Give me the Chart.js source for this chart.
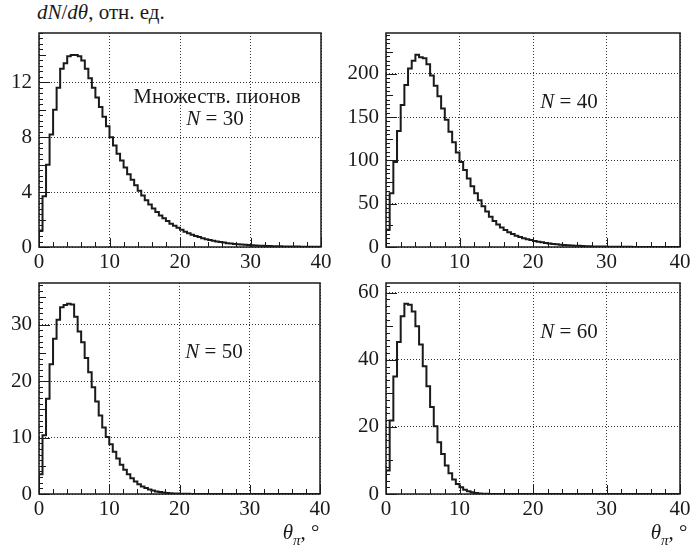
<!DOCTYPE html>
<html>
<head>
<meta charset="utf-8">
<script src="https://cdn.jsdelivr.net/npm/chart.js@4.4.1/dist/chart.umd.min.js"></script>
<style>
  body { margin: 0; background: #fff; }
  #wrap { position: relative; width: 693px; height: 553px; overflow: hidden;
          font-family: "Liberation Serif", Tinos, "DejaVu Serif", "Times New Roman", Times, serif; color: #1a1a1a; }
  canvas { position: absolute; }
  .txt { position: absolute; white-space: nowrap; font-size: 21px; line-height: 24px; transform: translate(-50%, -50%); }
</style>
</head>
<body>
<div id="wrap">
  <canvas id="c30" width="345" height="250" style="left:0;top:25px"></canvas>
  <canvas id="c40" width="348" height="250" style="left:345px;top:25px"></canvas>
  <canvas id="c50" width="345" height="278" style="left:0;top:275px"></canvas>
  <canvas id="c60" width="348" height="278" style="left:345px;top:275px"></canvas>

  <div class="txt" style="left:37px;top:0;transform:none"><i>dN</i>/<i>dθ</i>, отн. ед.</div>
  <div class="txt" style="left:217px;top:96px">Множеств. пионов</div>
  <div class="txt" style="left:215px;top:118px"><i>N</i> = 30</div>
  <div class="txt" style="left:569px;top:101px"><i>N</i> = 40</div>
  <div class="txt" style="left:214px;top:351px"><i>N</i> = 50</div>
  <div class="txt" style="left:569px;top:331px"><i>N</i> = 60</div>
  <div class="txt" style="left:301px;top:536px"><i>θ<sub style="font-size:15px">π</sub></i>, °</div>
  <div class="txt" style="left:669px;top:536px"><i>θ<sub style="font-size:15px">π</sub></i>, °</div>
</div>

<script>
// Угол пиона, градусы: границы бинов (шаг 0.5)
const thetaEdges = Array.from({ length: 81 }, (_, i) => i * 0.5);
const xTicks = [0, 10, 20, 30, 40];

// dN/dθ по бинам, N = 30
const dndTheta30 = [
  1.2, 3.7, 6.0, 8.2, 10.0, 11.6, 13.0, 13.4, 13.9, 14.0,
  14.0, 13.9, 13.6, 13.0, 12.3, 11.6, 10.9, 10.2, 9.5, 8.8,
  8.0, 7.4, 6.8, 6.3, 5.8, 5.3, 4.9, 4.5, 4.1, 3.75,
  3.4, 3.1, 2.8, 2.55, 2.3, 2.1, 1.9, 1.7, 1.55, 1.4,
  1.25, 1.12, 1.0, 0.9, 0.8, 0.72, 0.64, 0.57, 0.51, 0.45,
  0.40, 0.36, 0.32, 0.28, 0.25, 0.22, 0.2, 0.18, 0.16, 0.14,
  0.12, 0.11, 0.1, 0.09, 0.08, 0.07, 0.06, 0.055, 0.05, 0.045,
  0.04, 0.035, 0.03, 0.03, 0.025, 0.02, 0.02, 0.02, 0.015, 0.015
];
// N = 40
const dndTheta40 = [
  20, 62, 98, 134, 164, 187, 206, 215, 222, 219,
  218, 211, 198, 186, 174, 160, 147, 133, 121, 109,
  98, 89, 79, 70, 62, 54, 47, 41, 35, 30,
  26, 22.5, 19.5, 17, 15, 13, 11.5, 10, 9, 8,
  7, 6.2, 5.4, 4.7, 4.1, 3.6, 3.1, 2.7, 2.3, 2.0,
  1.7, 1.5, 1.3, 1.1, 0.95, 0.8, 0.7, 0.6, 0.5, 0.45,
  0.4, 0.35, 0.3, 0.26, 0.22, 0.19, 0.16, 0.14, 0.12, 0.1,
  0.09, 0.08, 0.07, 0.06, 0.05, 0.04, 0.035, 0.03, 0.025, 0.02
];
// N = 50
const dndTheta50 = [
  3.5, 10.4, 16.9, 23.0, 27.5, 30.9, 33.1, 33.5, 33.7, 33.6,
  31.4, 28.8, 26.9, 24.1, 21.6, 18.9, 16.4, 13.9, 11.8, 10.1,
  8.8, 7.5, 6.3, 5.2, 4.3, 3.5, 2.8, 2.2, 1.75, 1.35,
  1.05, 0.8, 0.6, 0.46, 0.35, 0.26, 0.19, 0.14, 0.1, 0.075,
  0.055, 0.04, 0.03, 0.02, 0.015, 0.01, 0.008, 0.006, 0.004, 0.003,
  0.002, 0.002, 0.001, 0.001, 0.001, 0, 0, 0, 0, 0,
  0, 0, 0, 0, 0, 0, 0, 0, 0, 0,
  0, 0, 0, 0, 0, 0, 0, 0, 0, 0
];
// N = 60
const dndTheta60 = [
  7, 21.9, 35, 45.3, 53, 56.7, 56.4, 54.4, 50, 44.6,
  38.1, 32.1, 25.9, 20.2, 15.4, 11.9, 8.5, 6.2, 4.3, 3.0,
  2.0, 1.3, 0.8, 0.5, 0.3, 0.18, 0.1, 0.06, 0.035, 0.02,
  0.01, 0.006, 0.003, 0.002, 0.001, 0, 0, 0, 0, 0,
  0, 0, 0, 0, 0, 0, 0, 0, 0, 0,
  0, 0, 0, 0, 0, 0, 0, 0, 0, 0,
  0, 0, 0, 0, 0, 0, 0, 0, 0, 0,
  0, 0, 0, 0, 0, 0, 0, 0, 0, 0
];

const yTicks30 = [0, 4, 8, 12];
const yTicks40 = [0, 50, 100, 150, 200];
const yTicks50 = [0, 10, 20, 30];
const yTicks60 = [0, 20, 40, 60];

const FONT = { family: '"Liberation Serif", Tinos, "DejaVu Serif", "Times New Roman", Times, serif', size: 21 };
const INK = '#1a1a1a';

// гистограмма -> ломаная (каждый бин = две точки)
const histPoints = (vals) => {
  const pts = [{ x: thetaEdges[0], y: 0 }];
  vals.forEach((v, i) => {
    pts.push({ x: thetaEdges[i], y: v });
    pts.push({ x: thetaEdges[i + 1], y: v });
  });
  return pts;
};

// рамка и внутренние засечки в стиле ROOT
const frameTicks = {
  id: 'frameTicks',
  afterDraw(chart, args, o) {
    const { ctx, chartArea: a, scales: { x, y } } = chart;
    ctx.save();
    ctx.strokeStyle = INK;
    ctx.lineWidth = 1;
    ctx.beginPath();
    const nx = Math.round(x.max / o.xMinor);
    for (let i = 0; i <= nx; i++) {
      const px = Math.round(x.getPixelForValue(i * o.xMinor)) + 0.5;
      const len = i % o.xPer === 0 ? 9 : 5;
      ctx.moveTo(px, a.bottom);
      ctx.lineTo(px, a.bottom - len);
    }
    const ny = Math.floor(y.max / o.yMinor + 1e-6);
    for (let i = 0; i <= ny; i++) {
      const py = Math.round(y.getPixelForValue(i * o.yMinor)) + 0.5;
      let len = 4;
      if (i % o.yPer === 0) len = 11;
      else if (i % (o.yPer / 2) === 0) len = 7;
      ctx.moveTo(a.left, py);
      ctx.lineTo(a.left + len, py);
    }
    ctx.stroke();
    ctx.lineWidth = 1.5;
    ctx.strokeRect(a.left, a.top, a.right - a.left, a.bottom - a.top);
    ctx.restore();
  }
};

const makePanel = (id, vals, yTicks, yMax, yMinor, yPer, box) => {
  new Chart(document.getElementById(id), {
    type: 'line',
    data: {
      datasets: [{
        data: histPoints(vals),
        borderColor: INK,
        borderWidth: 2,
        pointRadius: 0,
        tension: 0,
        fill: false,
      }],
    },
    options: {
      responsive: false,
      animation: false,
      events: [],
      layout: { padding: { left: 0, top: box.top, right: box.right, bottom: 0 } },
      plugins: { legend: { display: false }, tooltip: { enabled: false }, frameTicks: { xMinor: 2, xPer: 5, yMinor, yPer } },
      scales: {
        x: {
          type: 'linear', min: 0, max: 40,
          afterBuildTicks: (s) => { s.ticks = xTicks.map((v) => ({ value: v })); },
          afterFit: (s) => { s.height = box.xh; s.paddingLeft = 0; s.paddingRight = 0; },
          ticks: { font: FONT, color: INK, padding: 3, maxRotation: 0 },
          grid: { color: '#333', lineWidth: 1, drawTicks: false },
          border: { display: false, dash: [1, 2] },
        },
        y: {
          type: 'linear', min: 0, max: yMax,
          afterBuildTicks: (s) => { s.ticks = yTicks.map((v) => ({ value: v })); },
          afterFit: (s) => { s.width = box.yw; s.paddingTop = 0; s.paddingBottom = 0; },
          ticks: { font: FONT, color: INK, padding: 7 },
          grid: { color: '#333', lineWidth: 1, drawTicks: false },
          border: { display: false, dash: [1, 2] },
        },
      },
    },
    plugins: [frameTicks],
  });
};

makePanel('c30', dndTheta30, yTicks30, 15.6, 0.4, 10, { top: 8, right: 24, xh: 28, yw: 39 });
makePanel('c40', dndTheta40, yTicks40, 247, 5, 10, { top: 8, right: 13, xh: 28, yw: 41 });
makePanel('c50', dndTheta50, yTicks50, 37.4, 1, 10, { top: 8, right: 25, xh: 59, yw: 39 });
makePanel('c60', dndTheta60, yTicks60, 62.9, 2, 10, { top: 8, right: 13, xh: 59, yw: 41 });
</script>
</body>
</html>
